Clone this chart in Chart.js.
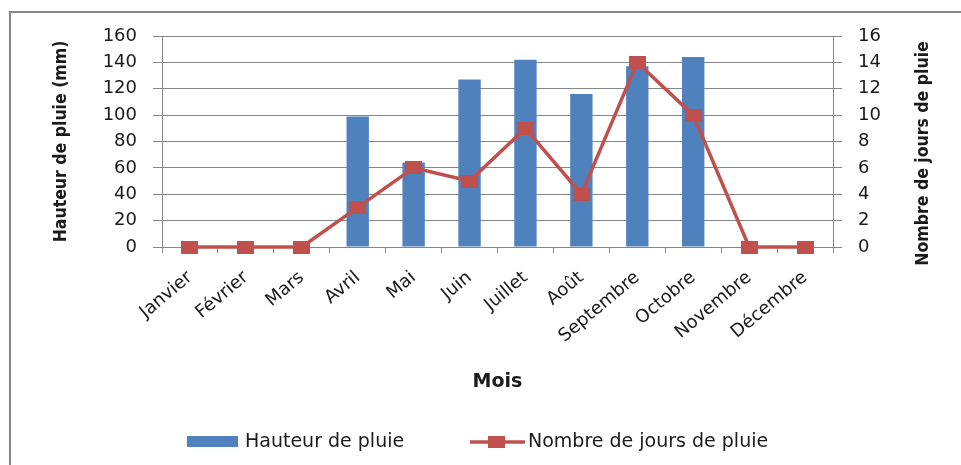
<!DOCTYPE html>
<html>
<head>
<meta charset="utf-8">
<script src="https://cdn.jsdelivr.net/npm/chart.js@4/dist/chart.umd.min.js"></script>
<style>
  html, body { margin: 0; padding: 0; background: #fff; }
  #wrap { width: 961px; height: 465px; position: relative; }
</style>
</head>
<body>
<div id="wrap"><canvas id="c" width="961" height="465"></canvas></div>
<script>
const mois = ['Janvier', 'Février', 'Mars', 'Avril', 'Mai', 'Juin', 'Juillet', 'Août', 'Septembre', 'Octobre', 'Novembre', 'Décembre'];
const hauteurPluie = [0, 0, 0, 99, 64, 127, 142, 116, 137, 144, 0, 0];
const joursPluie = [0, 0, 0, 3, 6, 5, 9, 4, 14, 10, 0, 0];

const BLEU = '#4F81BD';
const ROUGE = '#C0504D';
const GRIS = '#868686';
const TEXTE = '#1a1a1a';

// marqueur carré un peu étiré, comme dans l'original
const marqueur = document.createElement('canvas');
marqueur.width = 17;
marqueur.height = 13;
const mctx = marqueur.getContext('2d');
mctx.fillStyle = ROUGE;
mctx.fillRect(0, 0, 17, 13);

const cadre = {
  id: 'cadre',
  beforeDraw(chart) {
    const ctx = chart.ctx;
    ctx.save();
    ctx.strokeStyle = GRIS;
    ctx.lineWidth = 2;
    ctx.beginPath();
    ctx.moveTo(10, 465);
    ctx.lineTo(10, 12);
    ctx.lineTo(961, 12);
    ctx.stroke();
    ctx.restore();
  }
};

const titreDroite = {
  id: 'titreDroite',
  afterDraw(chart) {
    const ctx = chart.ctx;
    const area = chart.chartArea;
    ctx.save();
    ctx.translate(923, (area.top + area.bottom) / 2 + 12);
    ctx.rotate(-Math.PI / 2);
    ctx.font = 'bold 17.5px "Liberation Sans Narrow", "DejaVu Sans Condensed", sans-serif';
    ctx.fillStyle = TEXTE;
    ctx.textAlign = 'center';
    ctx.textBaseline = 'middle';
    ctx.fillText('Nombre de jours de pluie', 0, 0);
    ctx.restore();
  }
};

const legende = {
  id: 'legende',
  afterDraw(chart) {
    const ctx = chart.ctx;
    const barres = chart.data.datasets[1];
    const ligne = chart.data.datasets[0];
    const y = 442;
    ctx.save();
    ctx.font = '19px "DejaVu Sans", sans-serif';
    ctx.fillStyle = barres.backgroundColor;
    ctx.fillRect(187, 436, 51, 11);
    ctx.fillStyle = TEXTE;
    ctx.textBaseline = 'middle';
    ctx.fillText(barres.label, 245, y);

    ctx.strokeStyle = ligne.borderColor;
    ctx.lineWidth = 3.5;
    ctx.beginPath();
    ctx.moveTo(470, y);
    ctx.lineTo(525, y);
    ctx.stroke();
    ctx.fillStyle = ligne.borderColor;
    ctx.fillRect(488, 436, 17, 12);
    ctx.fillStyle = TEXTE;
    ctx.fillText(ligne.label, 528, y);
    ctx.restore();
  }
};

new Chart(document.getElementById('c'), {
  data: {
    labels: mois,
    datasets: [
      {
        type: 'line',
        label: 'Nombre de jours de pluie',
        data: joursPluie,
        yAxisID: 'y2',
        borderColor: ROUGE,
        backgroundColor: ROUGE,
        borderWidth: 3.5,
        tension: 0,
        pointStyle: marqueur,
        pointRadius: 8,
        clip: false,
        order: 0
      },
      {
        type: 'bar',
        label: 'Hauteur de pluie',
        data: hauteurPluie,
        yAxisID: 'y',
        backgroundColor: BLEU,
        borderWidth: 0,
        categoryPercentage: 1,
        barPercentage: 0.4,
        order: 1
      }
    ]
  },
  options: {
    responsive: false,
    animation: false,
    layout: { padding: { left: 0, top: 36, right: 0, bottom: 68 } },
    plugins: { legend: { display: false }, tooltip: { enabled: false } },
    scales: {
      x: {
        grid: { display: true, drawOnChartArea: false, offset: true, tickLength: 6, color: GRIS },
        border: { color: GRIS },
        ticks: {
          color: TEXTE,
          font: { family: '"DejaVu Sans", sans-serif', size: 18 },
          minRotation: 40,
          maxRotation: 40,
          padding: 14,
          autoSkip: false
        },
        title: {
          display: true,
          text: 'Mois',
          color: TEXTE,
          font: { family: '"DejaVu Sans", sans-serif', size: 19, weight: 'bold' },
          padding: { top: 0, bottom: 4 }
        },
        afterFit(scale) { scale.height = 150; }
      },
      y: {
        position: 'left',
        min: 0,
        max: 160,
        ticks: {
          stepSize: 20,
          color: TEXTE,
          padding: 16,
          font: { family: '"DejaVu Sans", sans-serif', size: 18 }
        },
        grid: { color: GRIS, tickLength: 9 },
        border: { color: GRIS },
        title: {
          display: true,
          text: 'Hauteur de pluie (mm)',
          color: TEXTE,
          font: { family: '"Liberation Sans Narrow", "DejaVu Sans Condensed", sans-serif', size: 17.5, weight: 'bold' },
          padding: { top: 51, bottom: 0 }
        },
        afterFit(scale) { scale.width = 162; }
      },
      y2: {
        position: 'right',
        min: 0,
        max: 16,
        ticks: {
          stepSize: 2,
          color: TEXTE,
          padding: 16,
          font: { family: '"DejaVu Sans", sans-serif', size: 18 }
        },
        grid: { drawOnChartArea: false, color: GRIS, tickLength: 9 },
        border: { color: GRIS },
        afterFit(scale) { scale.width = 128; }
      }
    }
  },
  plugins: [cadre, titreDroite, legende]
});
</script>
</body>
</html>
